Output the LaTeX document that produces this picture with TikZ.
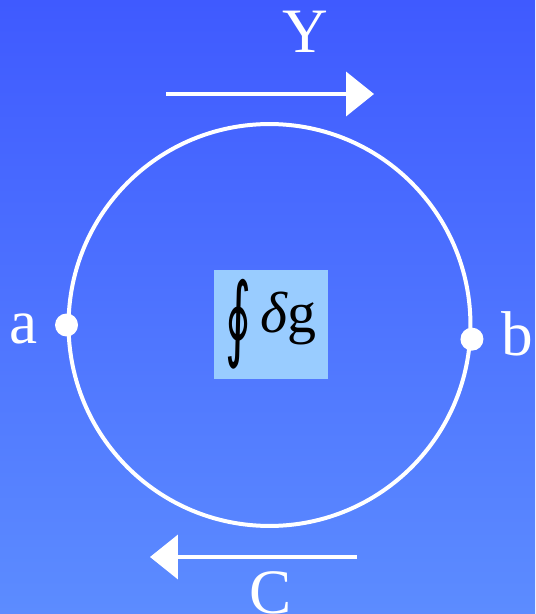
\documentclass[tikz,border=0pt]{standalone}
\usepackage{fontspec}
\setmainfont{Liberation Serif}
\newfontfamily\simbolos{DejaVu Sans}
\usepackage{graphicx}
\usetikzlibrary{arrows.meta,positioning}
\definecolor{FondoArriba}{HTML}{3F5AFF}
\definecolor{FondoAbajo}{HTML}{5C8CFF}
\definecolor{CajaCeleste}{HTML}{99CCFF}

\begin{document}
\begin{tikzpicture}[
      x=0.02cm, y=-0.02cm,
      anillo/.style={circle, draw=white, line width=0.08cm, minimum size=8.04cm, inner sep=0pt},
      punto/.style={circle, fill=white, minimum size=0.46cm, inner sep=0pt},
      caja/.style={rectangle, fill=CajaCeleste, minimum width=2.28cm, minimum height=2.18cm,
        inner sep=0pt, font=\fontsize{33}{36}\selectfont},
      etiqueta/.style={text=white, font=\fontsize{36}{40}\selectfont, inner sep=0pt, anchor=base},
      flecha/.style={-{Triangle[length=0.56cm, width=0.88cm]}, draw=white, line width=0.08cm},
    ]

    % fondo con degradado
    \shade[top color=FondoArriba, bottom color=FondoAbajo] (0,0) rectangle (535,614);
    \useasboundingbox (0,0) rectangle (535,614);

    \node[anillo] (anillo) at (269.5,325) {};
    \node[punto]  (pa) at (anillo.west) {};
    \node[punto]  (pb) at (anillo.-4.3) {};
    \node[etiqueta] (la) at (24,343)  {a};
    \node[etiqueta] (lb) at (517,355) {b};

    \node[caja] (integral) at (271,324.5)
      {\raisebox{-0.62cm}{\resizebox*{0.52cm}{1.8cm}{\simbolos ∮}}\hspace{0.18cm}\raisebox{-0.28cm}{\textit{δ}g}};

    \coordinate (y0) at (166,94);
    \coordinate (y1) at (374,94);
    \coordinate (c0) at (357,557);
    \coordinate (c1) at (150,557);
    \draw[flecha] (y0) -- (y1);
    \draw[flecha] (c0) -- (c1);
    \node[etiqueta] (ly) at (305,53)  {Y};
    \node[etiqueta] (lc) at (271,613) {C};

  \end{tikzpicture}
\end{document}
